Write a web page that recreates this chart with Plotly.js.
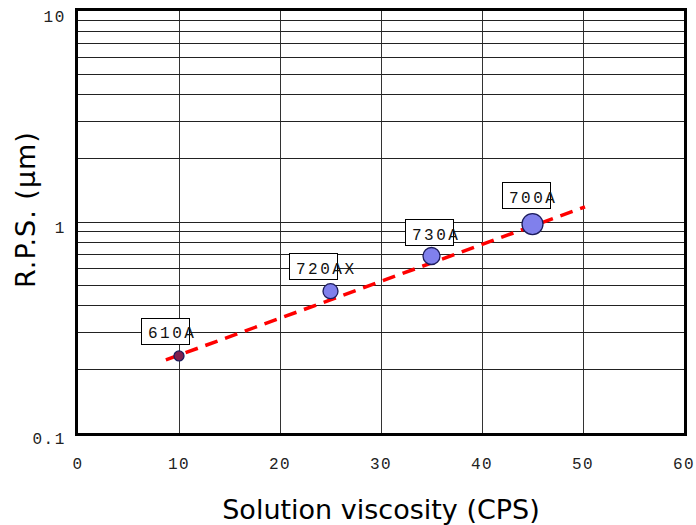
<!DOCTYPE html>
<html>
<head>
<meta charset="utf-8">
<script src="https://cdn.plot.ly/plotly-3.0.1.min.js"></script>
<style>
  html, body { margin: 0; padding: 0; background: #fff; }
  #chart { width: 696px; height: 525px; }
  .xtick text, .ytick text { letter-spacing: 1.5px; }
  text.annotation-text[style*="Liberation"] { letter-spacing: 2.5px; }
  text.annotation-text[style*="DejaVu"] { letter-spacing: 1px; }
</style>
</head>
<body>
<div id="chart"></div>
<script>
// Resin grades: solution viscosity (CPS) vs. R.P.S. (µm)
const grades    = ["610A", "720AX", "730A", "700A"];
const viscosity = [10, 25, 35, 45];
const rps       = [0.232, 0.47, 0.69, 0.978];

// Marker styling per grade
const markerSizes  = [10, 15, 17, 21];
const markerColors = ["#802050", "#8080ec", "#8080ec", "#8080ec"];

// Fitted trend (end points of the dashed line)
const trendX = [8.7, 50.2];
const trendY = [0.222, 1.18];

// Label box offsets from each point, in pixels (x right, y up)
const labelDx = [-13.5, -17.5, -2.5, -6];
const labelDy = [24.5, 24.2, 23.5, 28.5];
const boxW = 45, boxH = 23;

// Axis ticks
const xTicks = [0, 10, 20, 30, 40, 50, 60];
const yTickVals = [0.1, 0.2, 0.3, 0.4, 0.5, 0.6, 0.7, 0.8, 0.9,
                   1, 2, 3, 4, 5, 6, 7, 8, 9, 10];
const yTickText = yTickVals.map(v => (v === 0.1 || v === 1 || v === 10) ? String(v) : "");

const monoFont  = { family: "Liberation Mono", size: 16, color: "#222" };
const titleFont = { family: "DejaVu Sans", size: 27, color: "#000" };

const traces = [
  {
    x: trendX, y: trendY, type: "scatter", mode: "lines",
    line: { color: "#ff0000", width: 3.5, dash: "13px,8px" },
    hoverinfo: "skip", showlegend: false
  },
  {
    x: viscosity, y: rps, type: "scatter", mode: "markers",
    marker: { size: markerSizes, color: markerColors, opacity: 1,
              line: { color: "#1c1c5c", width: 1.3 } },
    showlegend: false
  }
];

// Label boxes (white with a thin black frame)
const boxes = grades.map((g, i) => ({
  x: viscosity[i], y: Math.log10(rps[i]), xref: "x", yref: "y",
  text: " ", showarrow: false,
  xanchor: "center", yanchor: "middle",
  xshift: labelDx[i], yshift: labelDy[i],
  width: boxW, height: boxH,
  bgcolor: "#fff", bordercolor: "#000", borderwidth: 1, borderpad: 1,
  font: monoFont
}));

// Grade names, written from the box's left edge (may run past the frame)
const names = grades.map((g, i) => ({
  x: viscosity[i], y: Math.log10(rps[i]), xref: "x", yref: "y",
  text: g, showarrow: false,
  xanchor: "left", yanchor: "middle",
  xshift: labelDx[i] - boxW / 2 + 3, yshift: labelDy[i] - 3,
  font: { family: "Liberation Mono", size: 16, color: "#111" }
}));

// Vertical axis title
const yTitle = {
  xref: "paper", yref: "paper", x: 0, y: 0.5,
  xanchor: "center", yanchor: "middle",
  xshift: -53, yshift: 12, textangle: -90,
  text: "R.P.S. (\u03bcm)", showarrow: false,
  font: titleFont
};

const layout = {
  width: 696, height: 525,
  margin: { l: 78, r: 12, t: 11, b: 92 },
  paper_bgcolor: "#fff", plot_bgcolor: "#fff",
  font: monoFont,
  xaxis: {
    range: [0, 60], tickvals: xTicks, ticktext: xTicks.map(String),
    showgrid: true, gridcolor: "#333", gridwidth: 1,
    zeroline: false, ticks: "", tickfont: monoFont,
    showline: true, linecolor: "#000", linewidth: 3, mirror: true,
    ticklabelstandoff: 14,
    title: { text: "Solution viscosity (CPS)", font: titleFont, standoff: 28 },
    automargin: false, fixedrange: true
  },
  yaxis: {
    type: "log", range: [-1, 1], tickvals: yTickVals, ticktext: yTickText,
    showgrid: true, gridcolor: "#222", gridwidth: 1,
    zeroline: false, ticks: "", tickfont: monoFont,
    showline: true, linecolor: "#000", linewidth: 3, mirror: true,
    ticklabelstandoff: 6, ticklabelshift: 5,
    automargin: false, fixedrange: true
  },
  annotations: boxes.concat(names, [yTitle]),
  showlegend: false
};

Plotly.newPlot("chart", traces, layout, { staticPlot: true, displayModeBar: false });
</script>
</body>
</html>
